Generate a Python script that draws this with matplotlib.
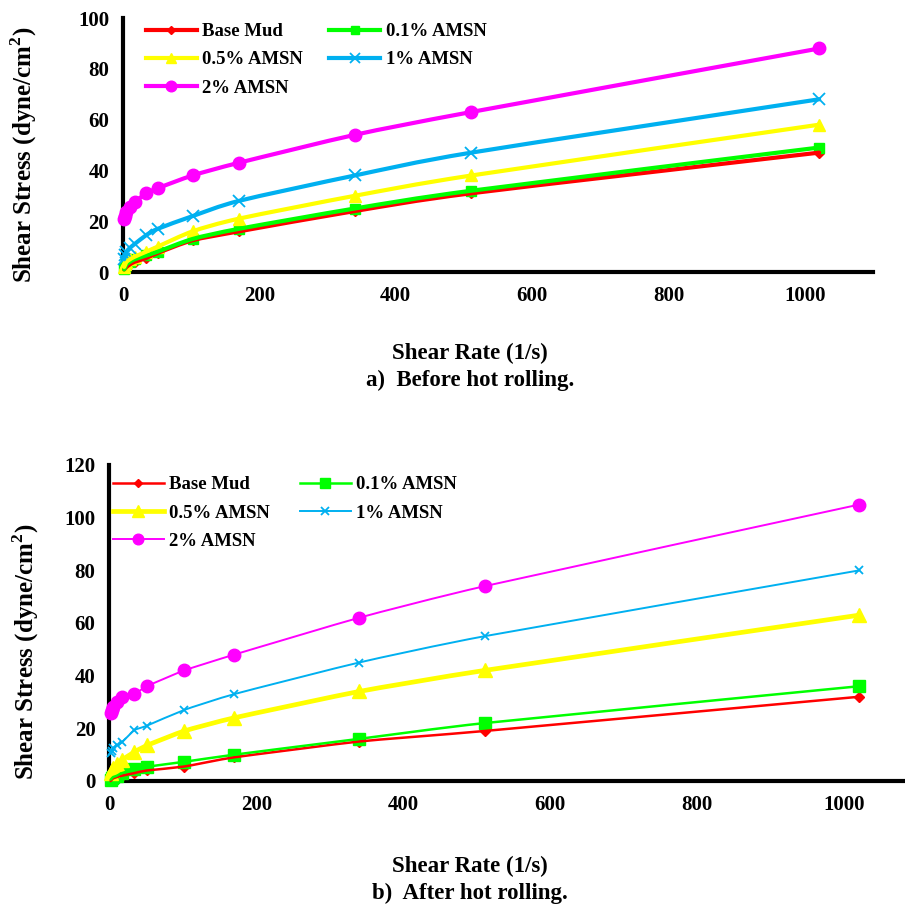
import matplotlib
matplotlib.use('Agg')
import matplotlib.pyplot as plt
from matplotlib.lines import Line2D
from matplotlib.path import Path
from matplotlib.patches import PathPatch
import numpy as np

# ---------------- data ----------------
shear_rate = [1.7, 3.4, 5.1, 10.2, 17, 34, 51, 102, 170, 340, 511, 1021]
series_names = ['Base Mud', '0.1% AMSN', '0.5% AMSN', '1% AMSN', '2% AMSN']

# a) before hot rolling
base_a = [1, 1.5, 2, 3, 4, 5.5, 7.5, 12.5, 16, 24, 31, 47]
amsn01_a = [1, 2, 3, 4, 5, 6.5, 8, 13, 17, 25, 32, 49]
amsn05_a = [2, 3, 4, 5, 6, 8, 10, 16, 21, 30, 38, 58]
amsn1_a = [5, 6.5, 8, 9.5, 11, 14.5, 17, 22, 28, 38, 47, 68]
amsn2_a = [21, 22, 23.5, 25.5, 27.5, 31, 33, 38, 43, 54, 63, 88]

# b) after hot rolling
base_b = [0, 0.5, 1, 1.5, 2, 3, 4, 5.5, 9, 15, 19, 32]
amsn01_b = [0.5, 1, 1.5, 2, 3, 4.4, 5.4, 7.3, 10, 16, 22, 36]
amsn05_b = [3, 4, 5, 6.5, 8, 11, 13.5, 19, 24, 34, 42, 63]
amsn1_b = [10.5, 11.5, 12.5, 13.5, 14.7, 19.3, 21, 27, 33, 45, 55, 80]
amsn2_b = [26, 27, 28, 30, 32, 33, 36, 42, 48, 62, 74, 105]

xticks = [0, 200, 400, 600, 800, 1000]
yticks_a = [0, 20, 40, 60, 80, 100]
yticks_b = [0, 20, 40, 60, 80, 100, 120]

# ---------------- style ----------------
colors = ['#FF0000', '#00FF00', '#FFFF00', '#00B0F0', '#FF00FF']
markers = ['D', 's', '^', 'x', 'o']
msizes_a = [5, 7.5, 9, 9, 9]
msizes_b = [5, 9, 10, 6, 9]
lw_a = [3, 3, 3, 3, 3]
lw_b = [1.8, 1.8, 3.4, 1.4, 1.4]

plt.rcParams['font.family'] = ['Liberation Serif', 'DejaVu Serif']
plt.rcParams['font.weight'] = 'bold'
plt.rcParams['mathtext.fontset'] = 'custom'
plt.rcParams['mathtext.rm'] = 'Liberation Serif:bold'
plt.rcParams['mathtext.bf'] = 'Liberation Serif:bold'

W, H = 905, 911
fig = plt.figure(figsize=(W / 100, H / 100), dpi=100)


def px_axes(left, top, right, bottom):
    return fig.add_axes([left / W, 1 - bottom / H, (right - left) / W, (bottom - top) / H])


def smooth_path(ax, xs, ys, k):
    """Smoothed line through the points: cubic Bezier segments in display space."""
    pts = ax.transData.transform(np.column_stack([xs, ys]))
    n = len(pts)
    verts = [pts[0]]
    codes = [Path.MOVETO]
    for i in range(n - 1):
        p0 = pts[i - 1] if i > 0 else pts[i]
        p1 = pts[i]
        p2 = pts[i + 1]
        p3 = pts[i + 2] if i + 2 < n else pts[i + 1]
        c1 = p1 + (p2 - p0) * k
        c2 = p2 - (p3 - p1) * k
        verts += [c1, c2, p2]
        codes += [Path.CURVE4] * 3
    return Path(np.array(verts), codes)


def draw(ax, data, msizes, lws, xlim, ylim, yticks, leg_anchor, colsp, smooth_k):
    ax.set_xlim(*xlim)
    ax.set_ylim(*ylim)
    handles = []
    for j, (vals, c, m, ms, lw, name) in enumerate(zip(data, colors, markers, msizes, lws, series_names)):
        mew = 1.3 if m == 'x' else 1
        path = smooth_path(ax, shear_rate, vals, smooth_k)
        patch = PathPatch(path, facecolor='none', edgecolor=c, lw=lw, transform=None,
                          zorder=3 + j * 0.1, capstyle='round', joinstyle='round')
        patch.set_clip_on(False)
        fig.add_artist(patch)
        ax.plot(shear_rate, vals, linestyle='none', marker=m, ms=ms,
                mec=c, mfc=c, mew=mew, clip_on=False, zorder=3.05 + j * 0.1)
        handles.append(Line2D([], [], color=c, lw=lw, marker=m, ms=ms * 0.85,
                              mec=c, mfc=c, mew=mew))
    ax.set_xticks(xticks)
    ax.set_yticks(yticks)
    for s in ['top', 'right']:
        ax.spines[s].set_visible(False)
    for s in ['left', 'bottom']:
        ax.spines[s].set_linewidth(3)
        ax.spines[s].set_color('black')
    ax.tick_params(axis='both', length=0, labelsize=15, pad=10)
    for lab in ax.get_xticklabels() + ax.get_yticklabels():
        lab.set_fontweight('bold')
    order = [0, 2, 4, 1, 3]
    ax.legend([handles[i] for i in order], [series_names[i] for i in order],
              ncol=2, frameon=False, loc='upper left',
              bbox_to_anchor=leg_anchor, bbox_transform=fig.transFigure,
              borderpad=0, borderaxespad=0, handlelength=2.7,
              handletextpad=0.3, columnspacing=colsp, labelspacing=0.6,
              prop={'family': 'Liberation Serif', 'weight': 'bold', 'size': 13.5})


ax1 = px_axes(123, 18, 873, 272)
draw(ax1, [base_a, amsn01_a, amsn05_a, amsn1_a, amsn2_a], msizes_a, lw_a,
     (0, 1100), (0, 100), yticks_a, (146 / W, 1 - 23 / H), 1.4, 1 / 8)

ax2 = px_axes(109.4, 465, 905, 781)
draw(ax2, [base_b, amsn01_b, amsn05_b, amsn1_b, amsn2_b], msizes_b, lw_b,
     (0, 1083), (0, 120), yticks_b, (113 / W, 1 - 476 / H), 1.6, 1 / 12)

ylab = 'Shear Stress (dyne/cm$^{2}$)'
fig.text(24 / W, 1 - 155 / H, ylab, rotation=90, ha='center', va='center',
         fontsize=18, fontweight='bold')
fig.text(26 / W, 1 - 652 / H, ylab, rotation=90, ha='center', va='center',
         fontsize=18, fontweight='bold')

fig.text(470 / W, 1 - 353 / H, 'Shear Rate (1/s)', ha='center', va='center',
         fontsize=16.5, fontweight='bold')
fig.text(470 / W, 1 - 380 / H, 'a)  Before hot rolling.', ha='center', va='center',
         fontsize=16.5, fontweight='bold')
fig.text(470 / W, 1 - 866 / H, 'Shear Rate (1/s)', ha='center', va='center',
         fontsize=16.5, fontweight='bold')
fig.text(470 / W, 1 - 893 / H, 'b)  After hot rolling.', ha='center', va='center',
         fontsize=16.5, fontweight='bold')

fig.savefig('out.png', dpi=100)
